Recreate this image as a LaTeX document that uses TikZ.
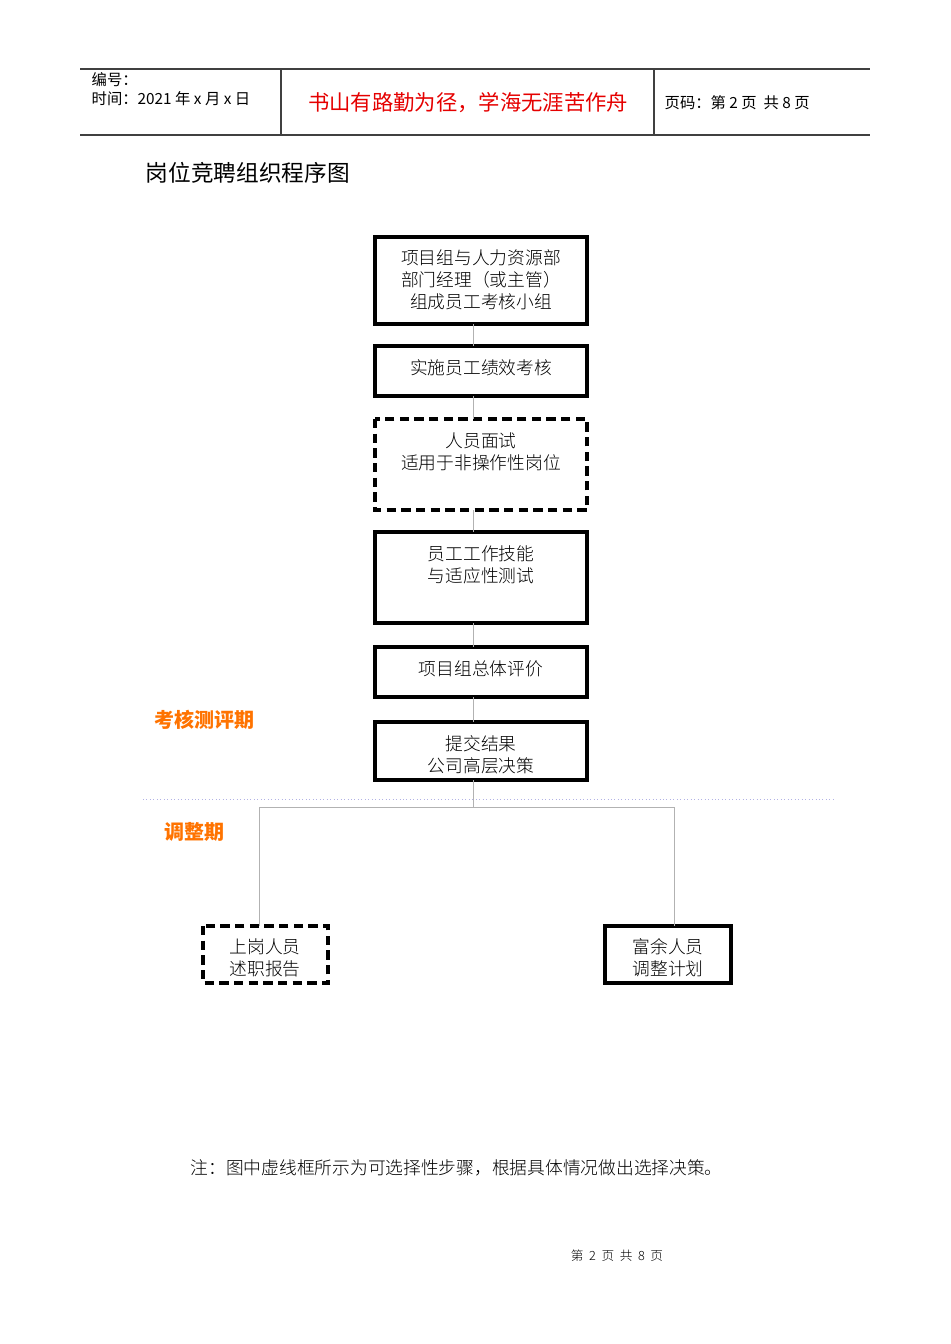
\documentclass[tikz,border=0pt]{standalone}
\usepackage{fontspec}
\newfontfamily\cjk{Noto Sans CJK SC}
\newfontfamily\cjkl{Noto Sans CJK SC Light}
\begin{document}
\begin{tikzpicture}[x=0.75pt,y=-0.75pt,
  box/.style={draw,line width=3pt,inner sep=0pt},
  dbox/.style={box,dash pattern=on 7pt off 4pt},
  conn/.style={draw=gray!60,line width=0.6pt},
  bt/.style={font=\cjkl\fontsize{13.3}{16.5}\selectfont,align=center,anchor=north},
  hl/.style={draw=black!75,line width=0.8pt}]
\useasboundingbox (0,0) rectangle (950,1344);
% header
\draw[hl] (80,69) -- (870,69);
\draw[hl] (80,135) -- (870,135);
\draw[hl] (281,69) -- (281,135);
\draw[hl] (654,69) -- (654,135);
\node[anchor=west,font=\cjk\fontsize{11.5}{14}\selectfont] (h1) at (87,80) {编号：};
\node[anchor=west,font=\cjk\fontsize{11.5}{14}\selectfont] (h2) at (87,99) {时间：2021 年 x 月 x 日};
\node[font=\cjk\fontsize{16}{18}\selectfont,text=red!90!black] (h3) at (468,103) {书山有路勤为径，学海无涯苦作舟};
\node[anchor=west,font=\cjk\fontsize{11.5}{14}\selectfont] (h4) at (660,103) {页码：第 2 页\ \ 共 8 页};
\node[anchor=west,font=\cjk\fontsize{17}{19}\selectfont] (title) at (141,173) {岗位竞聘组织程序图};
% boxes
\path[box] (375,237) rectangle (587,324); \node[bt] (b1) at (481,245) {项目组与人力资源部\\部门经理（或主管）\\组成员工考核小组};
\path[box] (375,346) rectangle (587,396); \node[bt] (b2) at (481,355) {实施员工绩效考核};
\path[dbox] (375,419) rectangle (587,510); \node[bt] (b3) at (481,428) {人员面试\\适用于非操作性岗位};
\path[box] (375,532) rectangle (587,623); \node[bt] (b4) at (481,541) {员工工作技能\\与适应性测试};
\path[box] (375,647) rectangle (587,697); \node[bt] (b5) at (481,656) {项目组总体评价};
\path[box] (375,722) rectangle (587,780); \node[bt] (b6) at (481,731) {提交结果\\公司高层决策};
\path[dbox] (203,926) rectangle (328,983); \node[bt] (b7) at (265,934) {上岗人员\\述职报告};
\path[box] (605,926) rectangle (731,983); \node[bt] (b8) at (668,934) {富余人员\\调整计划};
% connectors
\foreach \a/\b in {324/346,396/419,510/532,623/647,697/722}{\draw[conn] (473,\a) -- (473,\b);}
\draw[conn] (473,780) -- (473,807);
\draw[conn] (259,926) -- (259,807) -- (674,807) -- (674,926);
\draw[gray!50!blue!40,dotted,line width=0.6pt] (143,799) -- (833,799);
\node[anchor=west,font=\cjk\bfseries\fontsize{15}{17}\selectfont,text=orange!90!red] (l1) at (150,720) {考核测评期};
\node[anchor=west,font=\cjk\bfseries\fontsize{15}{17}\selectfont,text=orange!90!red] (l2) at (160,832) {调整期};
\node[anchor=west,font=\cjkl\fontsize{13.3}{16}\selectfont] (note) at (186,1168) {注：图中虚线框所示为可选择性步骤，根据具体情况做出选择决策。};
\node[font=\cjkl\fontsize{9.5}{12}\selectfont] (foot) at (617,1256) {第\ \ 2\ \ 页\ \ 共\ \ 8\ \ 页};
\end{tikzpicture}
\end{document}
